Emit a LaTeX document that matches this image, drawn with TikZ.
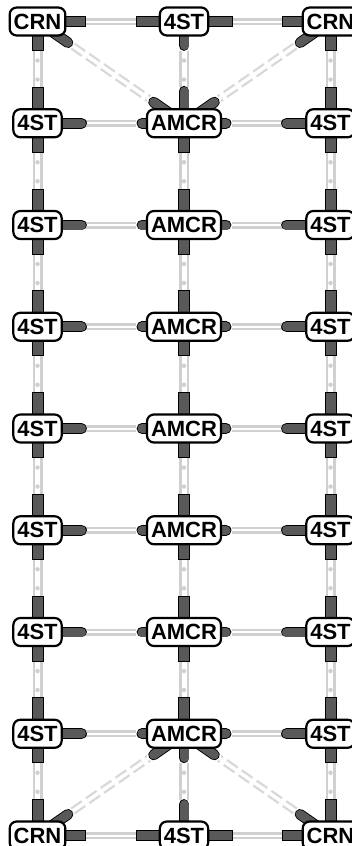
\documentclass[tikz,border=0pt]{standalone}
\usepackage{fontspec}
\setmainfont{Liberation Sans}
\usepackage{xcolor}
\usepackage{tikz}
\usetikzlibrary{calc, backgrounds}
\definecolor{portgrey}{HTML}{595959}
\definecolor{railgrey}{HTML}{D0D0D0}
\definecolor{diaggrey}{HTML}{D8D8D8}

\begin{document}
\begin{tikzpicture}[x=1pt, y=-1pt,
  piece/.style={draw, line width=2.2pt, fill=white, rounded corners=7pt, minimum height=28pt, inner xsep=4pt, inner ysep=0pt, font=\fontsize{22}{22}\selectfont\bfseries},
  portbar/.style={draw=black, line width=1pt, fill=portgrey},
  porttab/.style={draw=black, line width=0.9pt, double=portgrey, double distance=9pt, line cap=round},
  railh/.style={draw=railgrey, line width=2.5pt, double=white, double distance=2pt, shorten <=48pt, shorten >=48pt},
  railv/.style={draw=railgrey, line width=2.5pt, double=white, double distance=5pt, shorten <=29pt, shorten >=36pt},
  raildots/.style={draw=railgrey, line width=4.5pt, line cap=round, dash pattern=on 0pt off 19pt, dash phase=9pt, shorten <=29pt, shorten >=36pt},
  raildiag/.style={draw=diaggrey, line width=2.3pt, double=white, double distance=3.5pt, dash pattern=on 13pt off 5pt, shorten <=43pt, shorten >=43pt}
]
  \useasboundingbox (0,0) rectangle (351,846);

  % pieces
  \node[piece] (crnTL) at (37.5,21.5) {CRN};
  \node[piece] (stT) at (184,21.5) {4ST};
  \node[piece] (crnTR) at (330.5,21.5) {CRN};
  \foreach \r in {1,...,7} {
    \node[piece] (stL\r) at (37.5, 21.5+101.75*\r) {4ST};
    \node[piece] (amcr\r) at (184, 21.5+101.75*\r) {AMCR};
    \node[piece] (stR\r) at (330.5, 21.5+101.75*\r) {4ST};
  }
  \node[piece] (crnBL) at (37.5,835.5) {CRN};
  \node[piece] (stB) at (184,835.5) {4ST};
  \node[piece] (crnBR) at (330.5,835.5) {CRN};

  \begin{scope}[on background layer]
    % rails
    \draw[railh] (crnTL.center) -- (stT.center);
    \draw[railh] (stT.center) -- (crnTR.center);
    \draw[railh] (crnBL.center) -- (stB.center);
    \draw[railh] (stB.center) -- (crnBR.center);
    \foreach \r in {1,...,7} {
      \draw[railh] (stL\r.center) -- (amcr\r.center);
      \draw[railh] (amcr\r.center) -- (stR\r.center);
    }
    \foreach \ua/\ub in {crnTL/stL1, stT/amcr1, crnTR/stR1, stL7/crnBL, amcr7/stB, stR7/crnBR} {
      \draw[railv] (\ua.center) -- (\ub.center);
      \draw[raildots] (\ua.center) -- (\ub.center);
    }
    \foreach \r [evaluate=\r as \s using int(\r+1)] in {1,...,6} {
      \foreach \col in {stL, amcr, stR} {
        \draw[railv] (\col\r.center) -- (\col\s.center);
        \draw[raildots] (\col\r.center) -- (\col\s.center);
      }
    }
    \draw[raildiag] (crnTL.center) -- (amcr1.center);
    \draw[raildiag] (crnTR.center) -- (amcr1.center);
    \draw[raildiag] (crnBL.center) -- (amcr7.center);
    \draw[raildiag] (crnBR.center) -- (amcr7.center);

    % square ports
    \draw[portbar] ($(crnTL)+(0,-5)$) rectangle ($(crnTL)+(48,5)$);
    \draw[portbar] ($(crnTL)+(-5.5,0)$) rectangle ($(crnTL)+(5.5,29)$);
    \draw[portbar] ($(stT)+(-48,-5)$) rectangle ($(stT)+(48,5)$);
    \draw[portbar] ($(crnTR)+(-48,-5)$) rectangle ($(crnTR)+(0,5)$);
    \draw[portbar] ($(crnTR)+(-5.5,0)$) rectangle ($(crnTR)+(5.5,29)$);
    \draw[portbar] ($(crnBL)+(0,-5)$) rectangle ($(crnBL)+(48,5)$);
    \draw[portbar] ($(crnBL)+(-5.5,-36)$) rectangle ($(crnBL)+(5.5,0)$);
    \draw[portbar] ($(stB)+(-48,-5)$) rectangle ($(stB)+(48,5)$);
    \draw[portbar] ($(crnBR)+(-48,-5)$) rectangle ($(crnBR)+(0,5)$);
    \draw[portbar] ($(crnBR)+(-5.5,-36)$) rectangle ($(crnBR)+(5.5,0)$);
    \foreach \r in {1,...,7} {
      \draw[portbar] ($(stL\r)+(-5.5,-36)$) rectangle ($(stL\r)+(5.5,29)$);
      \draw[portbar] ($(stR\r)+(-5.5,-36)$) rectangle ($(stR\r)+(5.5,29)$);
    }
    \foreach \r in {2,...,6}
      \draw[portbar] ($(amcr\r)+(-5.5,-36)$) rectangle ($(amcr\r)+(5.5,29)$);
    \draw[portbar] ($(amcr1)+(-5.5,0)$) rectangle ($(amcr1)+(5.5,29)$);
    \draw[portbar] ($(amcr7)+(-5.5,-36)$) rectangle ($(amcr7)+(5.5,0)$);

    % round ports
    \foreach \r in {1,...,7} {
      \draw[porttab] (stL\r.center) -- ++(44,0);
      \draw[porttab] (stR\r.center) -- ++(-44,0);
      \draw[porttab] (amcr\r.center) -- ++(-42,0);
      \draw[porttab] (amcr\r.center) -- ++(42,0);
    }
    \draw[porttab] (stT.center) -- ++(0,24);
    \draw[porttab] (stB.center) -- ++(0,-31);
    \draw[porttab] (amcr1.center) -- ++(0,-32);
    \draw[porttab] (amcr7.center) -- ++(0,24);
    \draw[porttab] (crnTL.center) -- ($(crnTL)!37pt!(amcr1)$);
    \draw[porttab] (crnTR.center) -- ($(crnTR)!37pt!(amcr1)$);
    \draw[porttab] (crnBL.center) -- ($(crnBL)!37pt!(amcr7)$);
    \draw[porttab] (crnBR.center) -- ($(crnBR)!37pt!(amcr7)$);
    \draw[porttab] (amcr1.center) -- ($(amcr1)!37pt!(crnTL)$);
    \draw[porttab] (amcr1.center) -- ($(amcr1)!37pt!(crnTR)$);
    \draw[porttab] (amcr7.center) -- ($(amcr7)!37pt!(crnBL)$);
    \draw[porttab] (amcr7.center) -- ($(amcr7)!37pt!(crnBR)$);
  \end{scope}
\end{tikzpicture}
\end{document}
